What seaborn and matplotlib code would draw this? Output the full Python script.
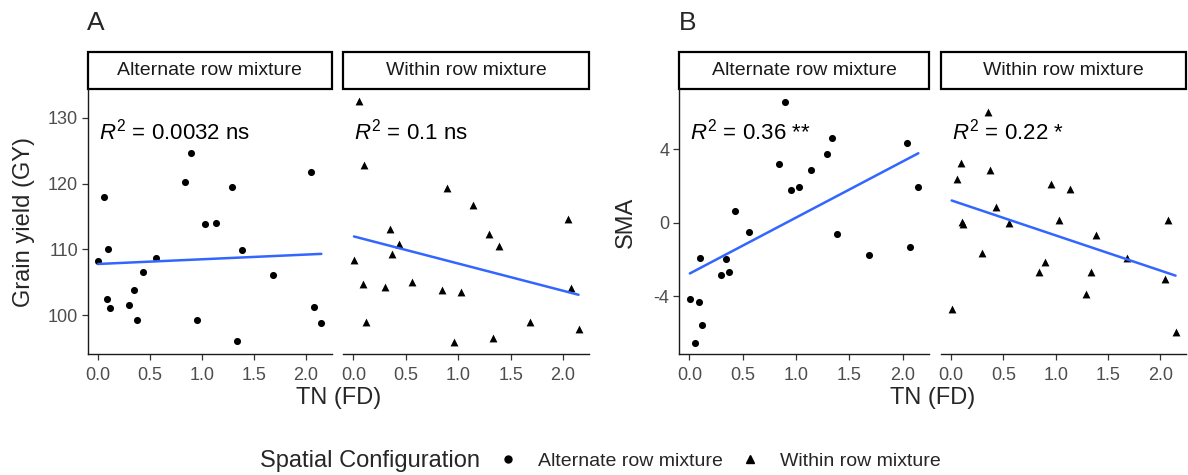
import numpy as np
import pandas as pd
import matplotlib.pyplot as plt
import seaborn as sns
from matplotlib.lines import Line2D
from matplotlib.patches import Rectangle

sns.set_style("white")
plt.rcParams['font.family'] = ['Liberation Sans', 'DejaVu Sans']
plt.rcParams['mathtext.fontset'] = 'custom'
plt.rcParams['mathtext.rm'] = 'Liberation Sans'
plt.rcParams['mathtext.it'] = 'Liberation Sans:italic'
plt.rcParams['axes.unicode_minus'] = False

# TN (FD) values, shared by every panel
tn = [0.005, 0.055, 0.092, 0.10, 0.115, 0.30, 0.348, 0.372, 0.43, 0.556, 0.842,
      0.895, 0.955, 1.03, 1.14, 1.29, 1.335, 1.385, 1.68, 2.045, 2.073, 2.147]

# grain yield (GY)
gy_alternate = [108.2, 117.9, 102.5, 110.1, 101.1, 101.6, 103.8, 99.3, 106.6, 108.7, 120.2,
                124.6, 99.3, 113.8, 114.0, 119.5, 96.1, 109.9, 106.2, 121.8, 101.3, 98.8]
gy_within = [108.4, 132.6, 104.8, 122.8, 99.0, 104.3, 113.05, 109.35, 110.8, 105.0, 103.8,
             119.3, 96.0, 103.6, 116.7, 112.3, 96.5, 110.6, 99.0, 114.7, 104.1, 97.97]

# SMA
sma_alternate = [-4.14, -6.51, -4.31, -1.92, -5.54, -2.82, -1.99, -2.66, 0.64, -0.52, 3.19,
                 6.57, 1.78, 1.96, 2.86, 3.75, 4.6, -0.6, -1.75, 4.34, -1.34, 1.96]
sma_within = [-4.7, 2.35, 3.26, 0.02, -0.05, -1.66, 6.03, 2.86, 0.87, 0.0, -2.66,
              -2.15, 2.1, 0.13, 1.81, -3.89, -2.66, -0.68, -1.9, -3.07, 0.13, -5.92]

configs = ["Alternate row mixture", "Within row mixture"]
r2_gy = ["0.0032 ns", "0.1 ns"]
r2_sma = ["0.36 **", "0.22 *"]

df = pd.DataFrame({
    "TN": tn * 2,
    "GY": gy_alternate + gy_within,
    "SMA": sma_alternate + sma_within,
    "config": [configs[0]] * len(tn) + [configs[1]] * len(tn),
})

W, H = 1188, 475
fig = plt.figure(figsize=(W / 100, H / 100), dpi=100)
TOP, BOT = 89.3, 354.3
STRIP_H = 37.0


def add_panel(x0, x1):
    return fig.add_axes([x0 / W, 1 - BOT / H, (x1 - x0) / W, (BOT - TOP) / H])


panels = [
    ("GY", 0, 87.7, 331.7, r2_gy[0], (94.1, 134.3), [100, 110, 120, 130]),
    ("GY", 1, 343.3, 589.0, r2_gy[1], (94.1, 134.3), [100, 110, 120, 130]),
    ("SMA", 0, 679.0, 929.0, r2_sma[0], (-7.14, 7.24), [-4, 0, 4]),
    ("SMA", 1, 941.0, 1186.0, r2_sma[1], (-7.14, 7.24), [-4, 0, 4]),
]
markers = ["o", "^"]

for var, ci_, x0, x1, r2, ylim, yticks in panels:
    ax = add_panel(x0, x1)
    sub = df[df["config"] == configs[ci_]]
    sns.regplot(data=sub, x="TN", y=var, ax=ax, ci=None, marker=markers[ci_],
                scatter_kws=dict(color="black", s=26 if ci_ == 0 else 32,
                                 linewidths=0, alpha=1),
                line_kws=dict(color="#3366FF", lw=1.8))
    ax.set_xlim(-0.097, 2.247)
    ax.set_ylim(*ylim)
    ax.set_xticks([0.0, 0.5, 1.0, 1.5, 2.0])
    ax.set_xticklabels(["0.0", "0.5", "1.0", "1.5", "2.0"])
    ax.set_yticks(yticks)
    ax.set_xlabel("")
    ax.set_ylabel("")
    for s in ["top", "right"]:
        ax.spines[s].set_visible(False)
    for s in ["left", "bottom"]:
        ax.spines[s].set_color("#1a1a1a")
        ax.spines[s].set_linewidth(1.0)
    ax.tick_params(axis="both", length=4, width=0.9, color="#333333",
                   labelcolor="#4D4D4D", labelsize=13, pad=3, direction="out",
                   bottom=True, left=True)
    ax.tick_params(axis="x", pad=5)
    if ci_ == 1:
        ax.spines["left"].set_visible(False)
        ax.tick_params(axis="y", left=False, labelleft=False)

    # facet strip
    sh = STRIP_H / (BOT - TOP)
    ax.add_patch(Rectangle((0, 1), 1, sh, transform=ax.transAxes, clip_on=False,
                           facecolor="white", edgecolor="black", lw=1.6))
    ax.text(0.5, 1 + sh / 2, configs[ci_], transform=ax.transAxes, ha="center",
            va="center", fontsize=14, color="#1a1a1a")

    ax.text(0.045, 0.84, r"$R^2$ = " + r2, transform=ax.transAxes, ha="left",
            va="center", fontsize=16, color="black")

# panel letters
fig.text(87 / W, 1 - 23 / H, "A", fontsize=19, ha="left", va="center")
fig.text(679 / W, 1 - 23 / H, "B", fontsize=19, ha="left", va="center")

# axis titles
fig.text(24 / W, 1 - 222 / H, "Grain yield (GY)", rotation=90, ha="center", va="center", fontsize=17)
fig.text(626 / W, 1 - 222 / H, "SMA", rotation=90, ha="center", va="center", fontsize=17)
fig.text(338.4 / W, 1 - 398 / H, "TN (FD)", ha="center", va="center", fontsize=17)
fig.text(932.5 / W, 1 - 398 / H, "TN (FD)", ha="center", va="center", fontsize=17)

# legend
fig.text(260 / W, 1 - 461 / H, "Spatial Configuration", ha="left", va="center", fontsize=17)
handles = [Line2D([], [], marker="o", ls="", color="black", ms=5),
           Line2D([], [], marker="^", ls="", color="black", ms=5.5)]
fig.legend(handles, configs, ncol=2, loc="center left",
           bbox_to_anchor=(498 / W, 1 - 461 / H), frameon=False, fontsize=14,
           handlelength=1.0, handletextpad=1.05, columnspacing=0.9,
           borderpad=0, borderaxespad=0)

fig.savefig("out.png", dpi=100)
